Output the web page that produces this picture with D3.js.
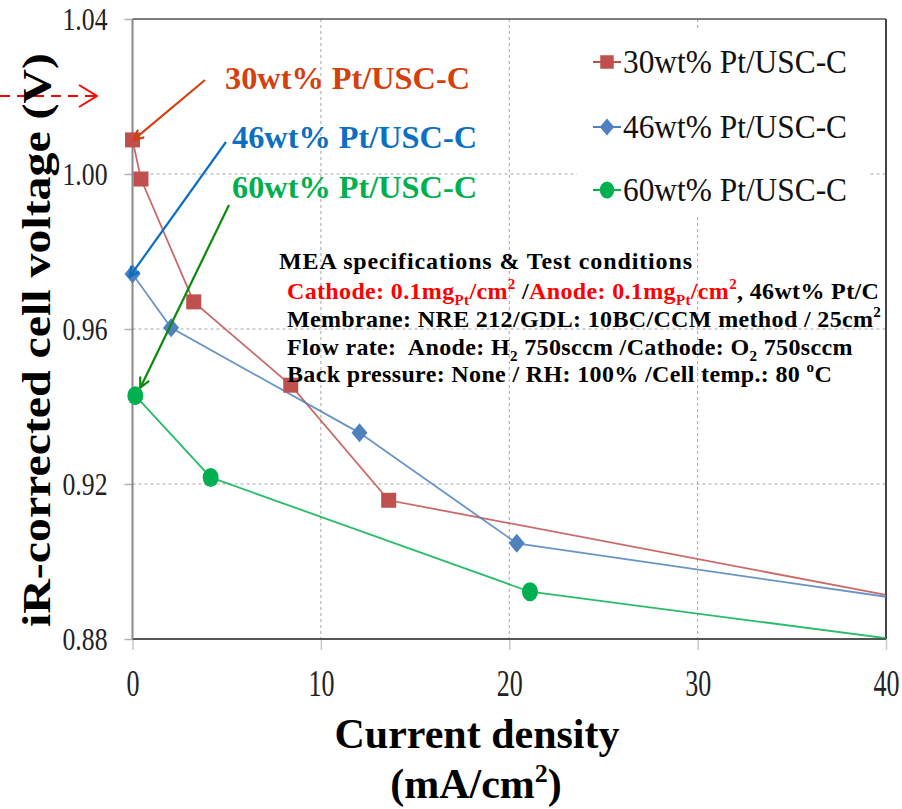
<!DOCTYPE html>
<html><head><meta charset="utf-8">
<script src="https://cdn.jsdelivr.net/npm/d3@7"></script>
<style>
html,body{margin:0;padding:0;background:#fff;}
svg{display:block;}
text{font-family:"Liberation Serif","Times New Roman",serif;white-space:pre;}
</style></head>
<body>
<svg id="chart" width="902" height="809" font-family="Liberation Serif, serif"></svg>
<script>
// ---- data ----
const seriesNames = ["30wt% Pt/USC-C", "46wt% Pt/USC-C", "60wt% Pt/USC-C"];
const seriesColors = ["#c0504d", "#4f81bd", "#00b050"];
const seriesShapes = ["square", "diamond", "circle"];
const x30 = [0, 0.45, 3.25, 8.4, 13.6, 40];
const y30 = [1.0088, 0.9987, 0.967, 0.9455, 0.9158, 0.8914];
const x46 = [0, 2.05, 12.05, 20.4, 40];
const y46 = [0.9742, 0.9603, 0.9332, 0.9047, 0.8909];
const x60 = [0.15, 4.15, 21.1, 40];
const y60 = [0.9428, 0.9217, 0.8922, 0.8802];
const xTicks = [0, 10, 20, 30, 40];
const yTicks = [0.88, 0.92, 0.96, 1.00, 1.04];
const xTitle = "Current density";
const xUnit = "(mA/cm";
const yTitle = "iR-corrected cell voltage (V)";

const series = [
  {name: seriesNames[0], color: seriesColors[0], shape: seriesShapes[0], pts: x30.map((v,i)=>({x:v,y:y30[i]}))},
  {name: seriesNames[1], color: seriesColors[1], shape: seriesShapes[1], pts: x46.map((v,i)=>({x:v,y:y46[i]}))},
  {name: seriesNames[2], color: seriesColors[2], shape: seriesShapes[2], pts: x60.map((v,i)=>({x:v,y:y60[i]}))}
];

const svg = d3.select("#chart");
const L = 132.5, R = 886, T = 19, B = 639;
const x = d3.scaleLinear().domain([0, 40]).range([L, R]);
const y = d3.scaleLinear().domain([0.88, 1.04]).range([B, T]);
const SERIF = "'Liberation Serif','Times New Roman',serif";

// clip
svg.append("defs").append("clipPath").attr("id","plotclip")
  .append("rect").attr("x",L).attr("y",T-10).attr("width",R-L).attr("height",B-T+10);

// gridlines
const grid = svg.append("g");
grid.selectAll("line.gx").data(xTicks.filter(d=>d>0 && d<40)).join("line")
  .attr("x1",d=>x(d)).attr("x2",d=>x(d)).attr("y1",T).attr("y2",B)
  .attr("stroke","#a6a6a6").attr("stroke-width",1).attr("stroke-dasharray","3,3");
grid.selectAll("line.gy").data(yTicks.filter(d=>d>0.881 && d<1.039)).join("line")
  .attr("x1",L).attr("x2",R).attr("y1",d=>y(d)).attr("y2",d=>y(d))
  .attr("stroke","#a6a6a6").attr("stroke-width",1).attr("stroke-dasharray","3,3");

// x ticks (below axis)
const xAxis = d3.axisBottom(x).tickValues(xTicks).tickSize(11).tickFormat(d3.format("d"));
const gx = svg.append("g").attr("transform",`translate(0,${B})`).call(xAxis).attr("font-family",SERIF);
gx.select(".domain").remove();
gx.selectAll(".tick line").attr("stroke","#c8c8c8").attr("stroke-width",1.5);
gx.selectAll(".tick text").attr("y",57).attr("dy",0)
  .style("font-family",SERIF).style("font-size","37px").attr("fill","#222")
  .attr("textLength",d=>String(d).length*13).attr("lengthAdjust","spacingAndGlyphs");

// y axis
const yAxis = d3.axisLeft(y).tickValues(yTicks).tickSize(8).tickPadding(17).tickFormat(d3.format(".2f"));
const gy = svg.append("g").attr("transform",`translate(${L},0)`).call(yAxis).attr("font-family",SERIF);
gy.select(".domain").remove();
gy.selectAll(".tick line").attr("stroke","#b0b0b0").attr("stroke-width",1.5);
gy.selectAll(".tick text").attr("dy","0.34em")
  .style("font-family",SERIF).style("font-size","31px").attr("fill","#222")
  .attr("textLength",45).attr("lengthAdjust","spacingAndGlyphs");

// frame
svg.append("line").attr("x1",L).attr("x2",R).attr("y1",T).attr("y2",T).attr("stroke","#555").attr("stroke-width",1.5);
svg.append("line").attr("x1",R).attr("x2",R).attr("y1",T).attr("y2",B).attr("stroke","#444").attr("stroke-width",2);
svg.append("line").attr("x1",L).attr("x2",R).attr("y1",B).attr("y2",B).attr("stroke","#555").attr("stroke-width",2);
svg.append("line").attr("x1",L).attr("x2",L).attr("y1",T).attr("y2",B).attr("stroke","#8a8a8a").attr("stroke-width",2);

// legend background
svg.append("rect").attr("x",577).attr("y",30).attr("width",293).attr("height",186).attr("fill","#fff");

// lines
const line = d3.line().x(d=>x(d.x)).y(d=>y(d.y));
const plot = svg.append("g").attr("clip-path","url(#plotclip)");
plot.selectAll("path.s").data(series).join("path")
  .attr("d",d=>line(d.pts)).attr("fill","none")
  .attr("stroke",d=>d.color).attr("stroke-width",1.8).attr("stroke-opacity",0.85);

function drawMarker(g, shape, color, cx, cy, s){
  if(shape==="square"){
    g.append("rect").attr("x",cx-s*7.5).attr("y",cy-s*7.5).attr("width",s*15).attr("height",s*15).attr("fill",color);
  } else if(shape==="diamond"){
    g.append("path").attr("d",`M${cx},${cy-9.5*s}L${cx+8*s},${cy}L${cx},${cy+9.5*s}L${cx-8*s},${cy}Z`).attr("fill",color);
  } else {
    g.append("ellipse").attr("cx",cx).attr("cy",cy).attr("rx",8*s).attr("ry",9.5*s).attr("fill",color);
  }
}
const mg = svg.append("g");
series.forEach(s=>{
  s.pts.filter(p=>p.x<40).forEach(p=>drawMarker(mg, s.shape, s.color, x(p.x), y(p.y), 1));
});

// legend
const legRows = [62, 127, 190];
series.forEach((s,i)=>{
  const cy = legRows[i];
  svg.append("line").attr("x1",593).attr("x2",621).attr("y1",cy).attr("y2",cy).attr("stroke",s.color).attr("stroke-width",2);
  drawMarker(svg, s.shape, s.color, 607, cy, 0.9);
  svg.append("text").attr("x",623).attr("y",cy+11).attr("fill","#111").style("font-family",SERIF)
    .style("font-size","33px").attr("textLength",224).attr("lengthAdjust","spacingAndGlyphs").text(s.name);
});

// annotation arrows
const defs = svg.select("defs");
function arrowMarker(id,color){
  defs.append("marker").attr("id",id).attr("viewBox","0 0 12 12").attr("refX",11).attr("refY",6)
    .attr("markerWidth",12).attr("markerHeight",12).attr("markerUnits","userSpaceOnUse").attr("orient","auto")
    .append("path").attr("d","M1,1L11,6L1,11").attr("fill","none").attr("stroke",color).attr("stroke-width",2.2);
}
arrowMarker("arR","#d5400f");
arrowMarker("arB","#0b6fc2");
arrowMarker("arG","#0a8a0a");
const annColors = ["#d5400f","#0b6fc2","#00b050"];
const arrowColors = ["#d5400f","#0b6fc2","#0a8a0a"];
const arrowIds = ["arR","arB","arG"];
const annText = [[225,89],[232,148],[232,198]];
const arrowStart = [[205,80],[226,142],[229,205]];
const tipOffset = [[1,0],[-3,3],[5,-8]];
series.forEach((s,i)=>{
  const p = s.pts[0];
  svg.append("line").attr("x1",arrowStart[i][0]).attr("y1",arrowStart[i][1])
    .attr("x2",x(p.x)+tipOffset[i][0]).attr("y2",y(p.y)+tipOffset[i][1])
    .attr("stroke",arrowColors[i]).attr("stroke-width",2.2).attr("marker-end",`url(#${arrowIds[i]})`);
  svg.append("text").attr("x",annText[i][0]).attr("y",annText[i][1]).attr("fill",annColors[i]).style("font-family",SERIF)
    .style("font-size","32px").style("font-weight","bold").attr("textLength",245).attr("lengthAdjust","spacingAndGlyphs").text(s.name);
});

// red dashed arrow at left
defs.append("marker").attr("id","arD").attr("viewBox","0 0 20 24").attr("refX",19).attr("refY",12)
  .attr("markerWidth",20).attr("markerHeight",24).attr("markerUnits","userSpaceOnUse").attr("orient","auto")
  .append("path").attr("d","M1,1L19,12L1,23").attr("fill","none").attr("stroke","#ff0000").attr("stroke-width",2);
svg.append("line").attr("x1",0).attr("x2",97).attr("y1",96).attr("y2",96)
  .attr("stroke","#ff0000").attr("stroke-width",2).attr("stroke-dasharray","10,7").attr("marker-end","url(#arD)");

// MEA text block
const tb = svg.append("g").style("font-weight","bold").style("font-size","24px").style("font-family",SERIF);
tb.append("text").attr("x",279).attr("y",269).attr("fill","#000")
  .attr("textLength",413).attr("lengthAdjust","spacing").text("MEA specifications & Test conditions");
const RED="#ff0000", BLK="#000";
function richLine(yy, parts){
  const t = tb.append("text").attr("x",287).attr("y",yy).style("letter-spacing","0.35px");
  parts.forEach(p=>{
    const ts = t.append("tspan").attr("fill",p.c||BLK).text(p.t);
    if(p.sub){ ts.attr("dy",6).style("font-size","15px"); }
    if(p.sup){ ts.attr("dy",-10).style("font-size","15px"); }
    if(p.back){ ts.attr("dy",p.back); }
  });
}
richLine(299,[
  {t:"Cathode: 0.1mg",c:RED},{t:"Pt",c:RED,sub:1},{t:"/cm",c:RED,back:-6},{t:"2",c:RED,sup:1},
  {t:" /",c:BLK,back:10},{t:"Anode: 0.1mg",c:RED},{t:"Pt",c:RED,sub:1},{t:"/cm",c:RED,back:-6},{t:"2",c:RED,sup:1},
  {t:", 46wt% Pt/C",c:BLK,back:10}
]);
richLine(327,[{t:"Membrane: NRE 212/GDL: 10BC/CCM method / 25cm"},{t:"2",sup:1}]);
richLine(355,[{t:"Flow rate:  Anode: H"},{t:"2",sub:1},{t:" 750sccm /Cathode: O",back:-6},{t:"2",sub:1},{t:" 750sccm",back:-6}]);
richLine(382,[{t:"Back pressure: None / RH: 100% /Cell temp.: 80 "},{t:"o",sup:1},{t:"C",back:10}]);

// axis titles
svg.append("text").attr("transform","translate(50,340) rotate(-90)").attr("text-anchor","middle").style("font-family",SERIF)
  .style("font-size","39px").style("font-weight","bold").attr("fill","#000")
  .attr("textLength",574).attr("lengthAdjust","spacingAndGlyphs").text(yTitle);
svg.append("text").attr("x",477).attr("y",748).attr("text-anchor","middle").style("font-family",SERIF)
  .style("font-size","42px").style("font-weight","bold").attr("fill","#000").text(xTitle);
const xu = svg.append("text").attr("x",476).attr("y",798).attr("text-anchor","middle").style("font-family",SERIF)
  .style("font-size","42px").style("font-weight","bold").attr("fill","#000");
xu.append("tspan").text(xUnit);
xu.append("tspan").attr("dy",-16).style("font-size","26px").text("2");
xu.append("tspan").attr("dy",16).text(")");
</script>
</body></html>
